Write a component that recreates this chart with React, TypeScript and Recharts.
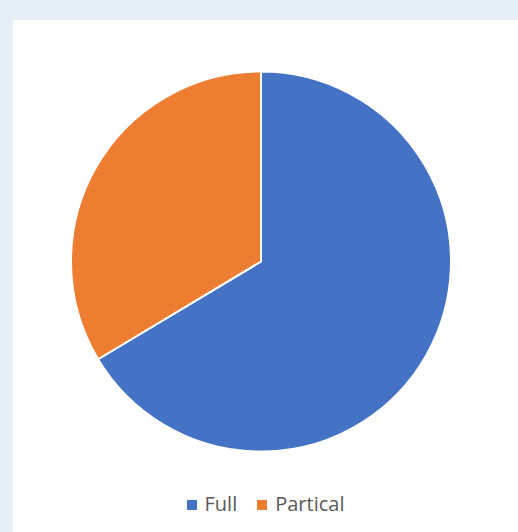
import { Cell, Legend, Pie, PieChart } from "recharts";

const categories = ["Full", "Partical"];
const shares = [66.4, 33.6];
const colors = ["#4472C4", "#ED7D31"];

const data = categories.map((name, i) => ({ name, value: shares[i] }));

type LegendItem = { value?: string; color?: string };

function SquareLegend({ payload }: { payload?: LegendItem[] }) {
  return (
    <div style={{ display: "flex", justifyContent: "center", alignItems: "center", gap: 20 }}>
      {(payload ?? []).map((p) => (
        <span key={p.value} style={{ display: "flex", alignItems: "center", gap: 8 }}>
          <span style={{ width: 10, height: 10, background: p.color, marginTop: 3 }} />
          <span style={{ color: "#595959", fontSize: 20 }}>{p.value}</span>
        </span>
      ))}
    </div>
  );
}

export default function App() {
  return (
    <div
      style={{
        position: "absolute",
        left: 0,
        top: 0,
        width: 518,
        height: 532,
        background: "#E7EFF6",
        fontFamily: "'Open Sans', sans-serif",
      }}
    >
      <div style={{ position: "absolute", left: 13, top: 20, width: 505, height: 512, background: "#ffffff" }}>
        <PieChart width={505} height={512} margin={{ top: 0, right: 0, bottom: 0, left: 0 }}>
          <Pie
            data={data}
            dataKey="value"
            nameKey="name"
            cx={248}
            cy={241.5}
            outerRadius={190}
            startAngle={90}
            endAngle={-270}
            stroke="#ffffff"
            strokeWidth={2}
            isAnimationActive={false}
          >
            {data.map((d, i) => (
              <Cell key={d.name} fill={colors[i]} />
            ))}
          </Pie>
          <Legend
            verticalAlign="bottom"
            content={(props) => <SquareLegend payload={props.payload as LegendItem[]} />}
            wrapperStyle={{ top: 470, bottom: "auto", left: 0, width: 505 }}
          />
        </PieChart>
      </div>
    </div>
  );
}
